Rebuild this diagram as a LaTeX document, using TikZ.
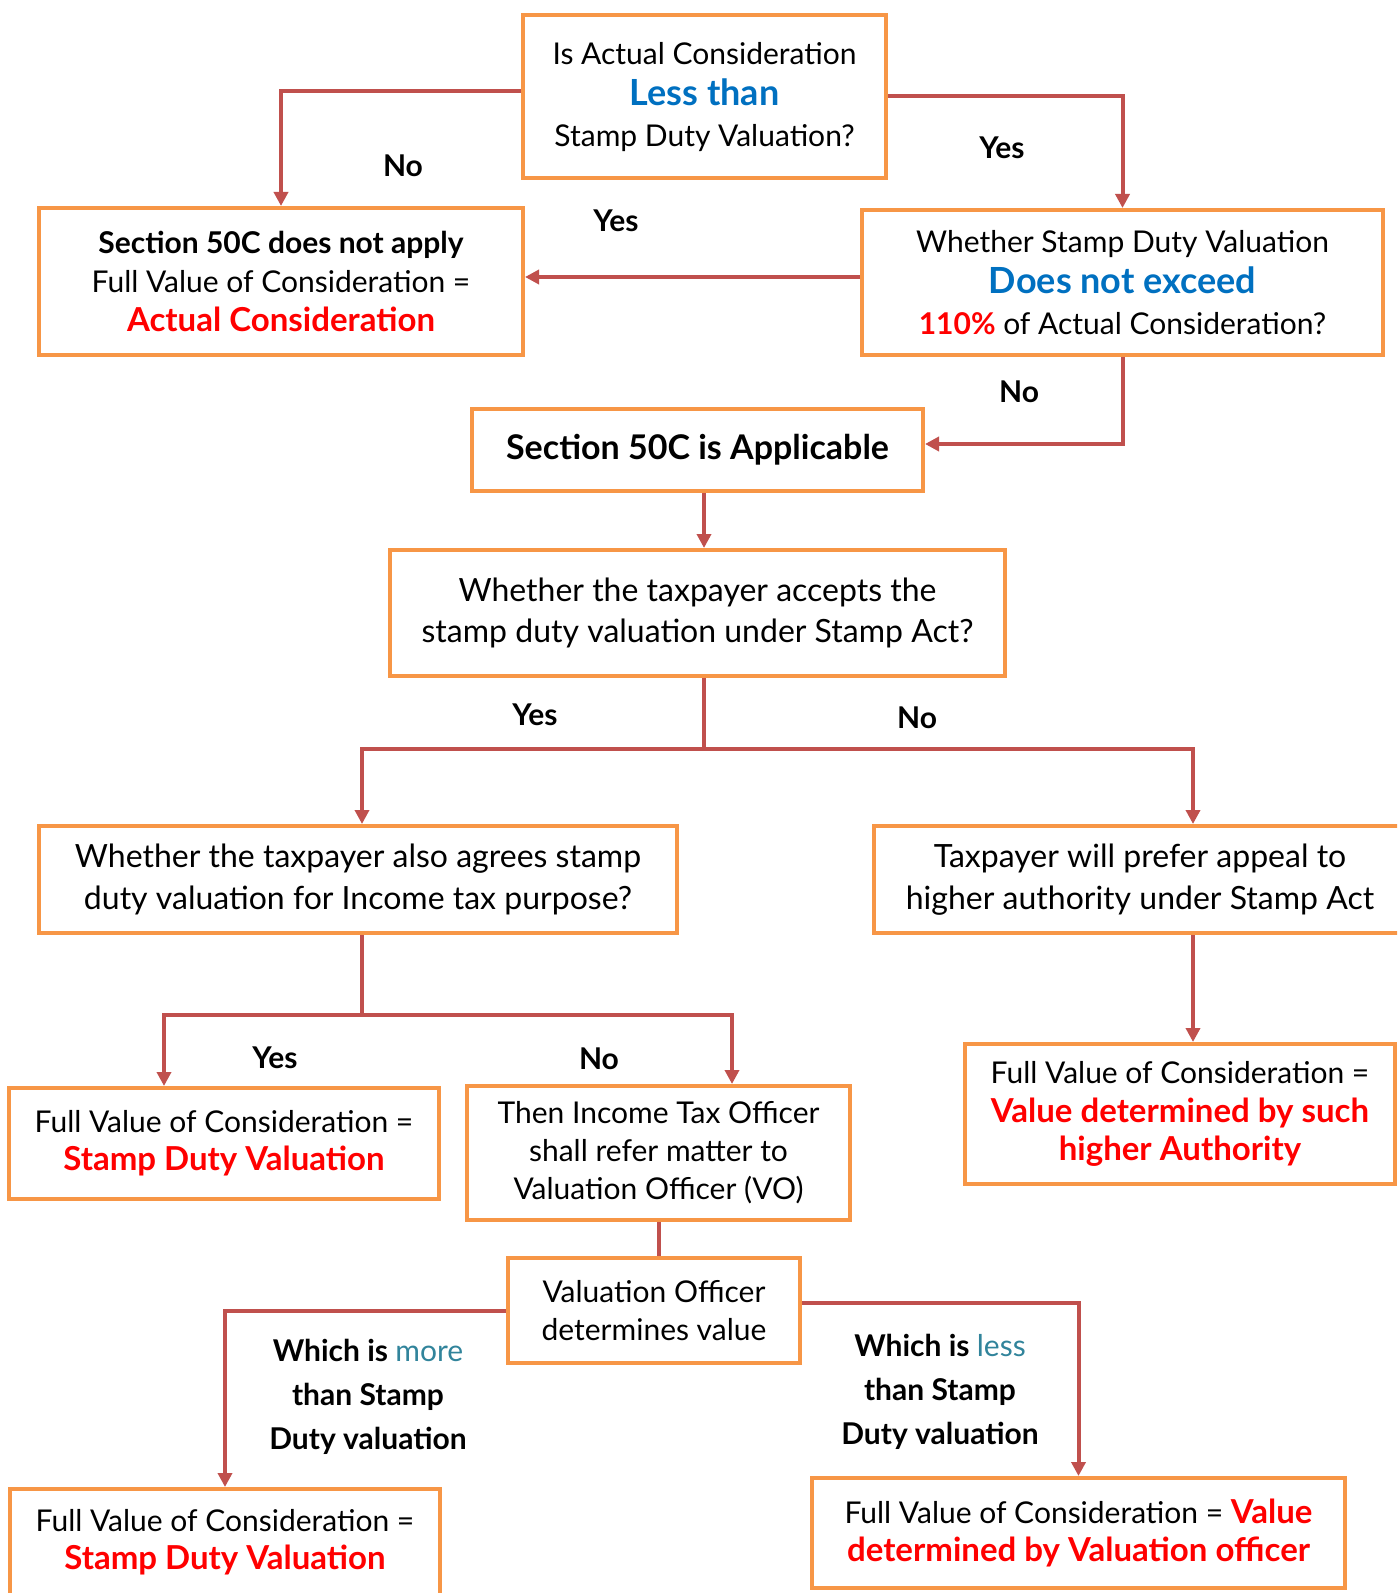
\documentclass[tikz,border=0pt]{standalone}
\usepackage{fontspec}
\setmainfont{Lato}
\usetikzlibrary{arrows.meta}
\definecolor{boxorange}{HTML}{F79646}
\definecolor{linkred}{HTML}{C0504D}
\definecolor{hiblue}{HTML}{0070C0}
\definecolor{hiteal}{HTML}{31849B}
\definecolor{hired}{HTML}{FF0000}
\newcommand{\redbold}[1]{{\color{hired}\bfseries\fontsize{16.5}{19}\selectfont #1}}
\newcommand{\bluebig}[1]{{\color{hiblue}\bfseries\fontsize{18}{21}\selectfont #1}}

\begin{document}
\begin{tikzpicture}[x=0.5pt,y=-0.5pt,
	box/.style = {draw=boxorange, line width=2pt, align=center, inner sep=0pt, font=\fontsize{15}{20.5}\selectfont},
	link/.style = {draw=linkred, line width=2pt},
	arr/.style = {link, -{Triangle[length=7pt,width=7pt]}},
	lbl/.style = {font=\bfseries\fontsize{15}{22}\selectfont, align=center}]
				\useasboundingbox (0,0) rectangle (1397,1593);
				\clip (0,0) rectangle (1397,1593);
				\begin{scope}[every node/.style={box}]
					\node[minimum width=181.5pt, minimum height=81.5pt] (q1) at (704.5,96.5) {Is Actual Consideration\\ \bluebig{Less than}\\ Stamp Duty Valuation?\\[-18pt]};
					\node[minimum width=242pt, minimum height=73.5pt, font=\fontsize{15}{19.3}\selectfont] (noapply) at (281,281.5) {{\bfseries Section 50C does not apply}\\ Full Value of Consideration =\\ \redbold{Actual Consideration}};
					\node[minimum width=260.5pt, minimum height=72.5pt] (q2) at (1122.5,282.5) {Whether Stamp Duty Valuation\\ \bluebig{Does not exceed}\\ {\color{hired}\bfseries 110\%} of Actual Consideration?};
					\node[minimum width=225.5pt, minimum height=41pt, font=\bfseries\fontsize{17}{20}\selectfont] (applic) at (697.5,450) {Section 50C is Applicable};
					\node[minimum width=307.5pt, minimum height=63pt, font=\fontsize{16}{20.8}\selectfont] (q3) at (697.5,613) {Whether the taxpayer accepts the\\ stamp duty valuation under Stamp Act?};
					\node[minimum width=319pt, minimum height=53.5pt, font=\fontsize{16}{20.8}\selectfont] (q4) at (358,879.5) {Whether the taxpayer also agrees stamp\\ duty valuation for Income tax purpose?};
					\node[minimum width=266pt, minimum height=53.5pt, font=\fontsize{16}{20.8}\selectfont] (appeal) at (1140,879.5) {Taxpayer will prefer appeal to\\ higher authority under Stamp Act};
					\node[minimum width=215pt, minimum height=55.5pt, font=\fontsize{15}{19}\selectfont] (fvcsdv) at (224,1143.5) {Full Value of Consideration =\\ \redbold{Stamp Duty Valuation}};
					\node[minimum width=191.5pt, minimum height=67pt, font=\fontsize{15}{19}\selectfont] (ito) at (658.5,1153) {Then Income Tax Officer\\ shall refer matter to\\ Valuation Officer (VO)};
					\node[minimum width=215pt, minimum height=70pt, font=\fontsize{15}{19.3}\selectfont] (higher) at (1180,1114) {Full Value of Consideration =\\ \redbold{Value determined by such}\\ \redbold{higher Authority}};
					\node[minimum width=146pt, minimum height=52.5pt, font=\fontsize{15}{19.3}\selectfont] (vo) at (654,1310.5) {Valuation Officer\\ determines value};
					\node[minimum width=215pt, minimum height=53pt, font=\fontsize{15}{19}\selectfont] (fvcsdv2) at (225,1542) {Full Value of Consideration =\\ \redbold{Stamp Duty Valuation}};
					\node[minimum width=266.5pt, minimum height=55pt, font=\fontsize{15}{19.3}\selectfont] (fvcvo) at (1078.5,1533) {Full Value of Consideration = \redbold{Value}\\ \redbold{determined by Valuation officer}};
				\end{scope}
				% branch points and arrow columns
				\coordinate (s1) at (704,749);
				\coordinate (s2) at (362,1015);
				\coordinate (c1) at (1193,0);
				\coordinate (c2) at (164,0);
				\coordinate (c3) at (732,0);
				\draw [arr] ([yshift=2.75pt]q1.west) -| (noapply.north);
				\draw [arr] (q1.east) -| (q2.north);
				\draw [arr] ([yshift=2.75pt]q2.west) -- ([yshift=2.75pt]q2.west -| noapply.east);
				\draw [arr] (q2.south) |- ([yshift=3pt]applic.east);
				\draw [arr] (applic.south -| s1) -- (q3.north -| s1);
				\draw [link] (q3.south -| s1) -- (s1);
				\draw [arr] (s1) -| (q4.north -| s2);
				\draw [arr] (s1) -| (appeal.north -| c1);
				\draw [link] (q4.south -| s2) -- (s2);
				\draw [arr] (s2) -| (fvcsdv.north -| c2);
				\draw [arr] (s2) -| (ito.north -| c3);
				\draw [arr] (appeal.south -| c1) -- (higher.north -| c1);
				\draw [link] (ito.south) -- (ito.south |- vo.north);
				\draw [arr] (vo.west) -| (fvcsdv2.north);
				\draw [arr] ([yshift=4pt]vo.east) -| (fvcvo.north);
				% branch labels
				\node[lbl] (no1) at (403,166) {No};
				\node[lbl] (yes1) at (1002,148) {Yes};
				\node[lbl] (yes2) at (616,221) {Yes};
				\node[lbl] (no2) at (1019,392) {No};
				\node[lbl] (yes3) at (535,715) {Yes};
				\node[lbl] (no3) at (917,718) {No};
				\node[lbl] (yes4) at (275,1058) {Yes};
				\node[lbl] (no4) at (599,1059) {No};
				\node[lbl] (more) at (368,1397) {Which is {\mdseries\color{hiteal}more}\\ than Stamp\\ Duty valuation};
				\node[lbl] (less) at (940,1392) {Which is {\mdseries\color{hiteal}less}\\ than Stamp\\ Duty valuation};
			\end{tikzpicture}
\end{document}
